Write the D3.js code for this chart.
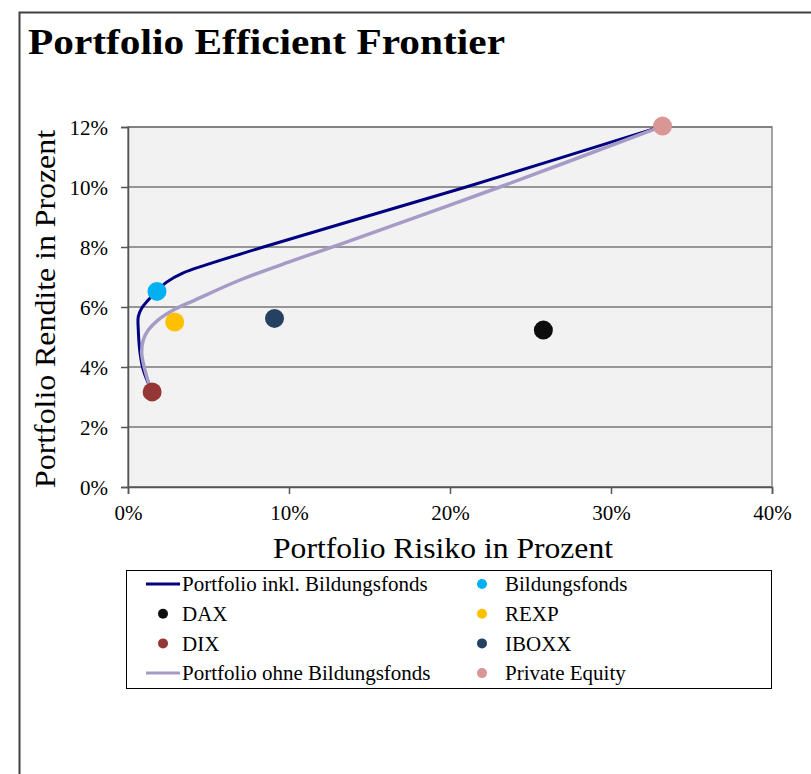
<!DOCTYPE html>
<html>
<head>
<meta charset="utf-8">
<script src="https://cdn.jsdelivr.net/npm/d3@7"></script>
<style>
  body { margin: 0; background: #fff; }
  svg text { font-family: "Liberation Serif", "DejaVu Serif", serif; fill: #000; }
</style>
</head>
<body>
<svg width="811" height="774"></svg>
<script>
// frontier curves (risk %, return %)
var inklRisk = [1.5, 0.95, 0.75, 0.64, 0.64, 0.85, 1.26, 1.74, 2.4, 3.4, 4.89, 8.41, 13.17, 21.0, 33.2];
var inklReturn = [3.17, 3.9, 4.46, 5.23, 5.68, 5.96, 6.23, 6.51, 6.83, 7.13, 7.41, 8.0, 8.76, 10.0, 12.03];
var ohneRisk = [1.5, 1.16, 0.85, 0.95, 1.26, 1.88, 2.82, 4.16, 6.96, 10.06, 13.17, 23.1, 33.2];
var ohneReturn = [3.17, 3.68, 4.46, 4.9, 5.23, 5.57, 5.9, 6.23, 6.9, 7.51, 8.09, 10.0, 12.03];

// single assets
var assetNames = ['Bildungsfonds', 'DAX', 'REXP', 'DIX', 'IBOXX', 'Private Equity'];
var assetRisk = [1.8, 25.8, 2.9, 1.5, 9.1, 33.2];
var assetReturn = [6.52, 5.23, 5.5, 3.17, 5.62, 12.03];
var assetColors = ['#00b0f0', '#0d0d0d', '#ffc000', '#953735', '#254061', '#d99694'];

var xTicks = [0, 10, 20, 30, 40];
var yTicks = [0, 2, 4, 6, 8, 10, 12];

var legendItems = [
  {name: 'Portfolio inkl. Bildungsfonds', type: 'line', color: '#000080'},
  {name: 'Bildungsfonds', type: 'dot', color: '#00b0f0'},
  {name: 'DAX', type: 'dot', color: '#0d0d0d'},
  {name: 'REXP', type: 'dot', color: '#ffc000'},
  {name: 'DIX', type: 'dot', color: '#953735'},
  {name: 'IBOXX', type: 'dot', color: '#254061'},
  {name: 'Portfolio ohne Bildungsfonds', type: 'line', color: '#a59bc6'},
  {name: 'Private Equity', type: 'dot', color: '#d99694'}
];

var plot = {left: 128, right: 772, top: 127, bottom: 487};
var svg = d3.select('svg');

// outer frame
svg.append('rect')
  .attr('x', 19.5).attr('y', 12.5)
  .attr('width', 900).attr('height', 900)
  .attr('fill', 'none').attr('stroke', '#404040').attr('stroke-width', 2);

svg.append('text')
  .text('Portfolio Efficient Frontier')
  .attr('x', 28).attr('y', 54)
  .attr('font-size', '36px').attr('font-weight', 'bold')
  .attr('textLength', 477).attr('lengthAdjust', 'spacingAndGlyphs');

var xScale = d3.scaleLinear().domain([0, 40]).range([plot.left, plot.right]);
var yScale = d3.scaleLinear().domain([0, 12]).range([plot.bottom, plot.top]);

svg.append('rect')
  .attr('x', plot.left).attr('y', plot.top)
  .attr('width', plot.right - plot.left).attr('height', plot.bottom - plot.top)
  .attr('fill', '#f2f2f2').attr('stroke', '#868686').attr('stroke-width', 1.5);

// gridlines
svg.append('g').selectAll('line')
  .data(yTicks)
  .enter()
  .append('line')
  .attr('x1', plot.left).attr('x2', plot.right)
  .attr('y1', function(d) { return yScale(d); })
  .attr('y2', function(d) { return yScale(d); })
  .attr('stroke', '#777').attr('stroke-width', 1.5);

var yAxis = svg.append('g')
  .attr('transform', 'translate(' + plot.left + ',0)')
  .call(d3.axisLeft(yScale).tickValues(yTicks).tickSize(7).tickPadding(13)
    .tickFormat(function(d) { return d + '%'; }));

var xAxis = svg.append('g')
  .attr('transform', 'translate(0,' + plot.bottom + ')')
  .call(d3.axisBottom(xScale).tickValues(xTicks).tickSize(7).tickPadding(11)
    .tickFormat(function(d) { return d + '%'; }));

svg.selectAll('.domain').attr('stroke', '#555').attr('stroke-width', 1.5);
svg.selectAll('.tick line').attr('stroke', '#555').attr('stroke-width', 1.5);
svg.selectAll('.tick text').attr('font-size', '21px').attr('font-family', '"Liberation Serif", serif').attr('fill', '#000');
yAxis.selectAll('.tick text').attr('dy', '0.35em');

svg.append('text')
  .text('Portfolio Rendite in Prozent')
  .attr('text-anchor', 'middle')
  .attr('font-size', '29px')
  .attr('textLength', 358).attr('lengthAdjust', 'spacingAndGlyphs')
  .attr('transform', 'translate(55,309) rotate(-90)');

svg.append('text')
  .text('Portfolio Risiko in Prozent')
  .attr('text-anchor', 'middle')
  .attr('font-size', '29px')
  .attr('textLength', 340).attr('lengthAdjust', 'spacingAndGlyphs')
  .attr('x', 443).attr('y', 558);

// frontier lines
var line = d3.line()
  .x(function(d) { return xScale(d[0]); })
  .y(function(d) { return yScale(d[1]); })
  .curve(d3.curveCatmullRom.alpha(0.5));

svg.append('path')
  .datum(inklRisk.map(function(r, i) { return [r, inklReturn[i]]; }))
  .attr('d', line)
  .attr('fill', 'none').attr('stroke', '#000080').attr('stroke-width', 3);

svg.append('path')
  .datum(ohneRisk.map(function(r, i) { return [r, ohneReturn[i]]; }))
  .attr('d', line)
  .attr('fill', 'none').attr('stroke', '#a59bc6').attr('stroke-width', 3.5);

// asset points
svg.append('g').selectAll('circle')
  .data(assetNames)
  .enter()
  .append('circle')
  .attr('cx', function(d, i) { return xScale(assetRisk[i]); })
  .attr('cy', function(d, i) { return yScale(assetReturn[i]); })
  .attr('r', 9.5)
  .attr('fill', function(d, i) { return assetColors[i]; });

// legend
var leg = svg.append('g');
leg.append('rect')
  .attr('x', 126.5).attr('y', 570.5).attr('width', 645).attr('height', 118)
  .attr('fill', '#fff').attr('stroke', '#000').attr('stroke-width', 1);

var items = leg.selectAll('g.item')
  .data(legendItems)
  .enter()
  .append('g')
  .attr('class', 'item')
  .attr('transform', function(d, i) {
    var col = i % 2, row = Math.floor(i / 2);
    return 'translate(' + (col ? 482 : 163) + ',' + (584 + row * 29.7) + ')';
  });

items.filter(function(d) { return d.type === 'line'; })
  .append('line')
  .attr('x1', -17).attr('x2', 17)
  .attr('stroke', function(d) { return d.color; }).attr('stroke-width', 3);

items.filter(function(d) { return d.type === 'dot'; })
  .append('circle')
  .attr('r', 5)
  .attr('fill', function(d) { return d.color; });

items.append('text')
  .text(function(d) { return d.name; })
  .attr('x', function(d, i) { return i % 2 ? 23 : 19; })
  .attr('dy', '0.35em')
  .attr('font-size', '21px');
</script>
</body>
</html>
